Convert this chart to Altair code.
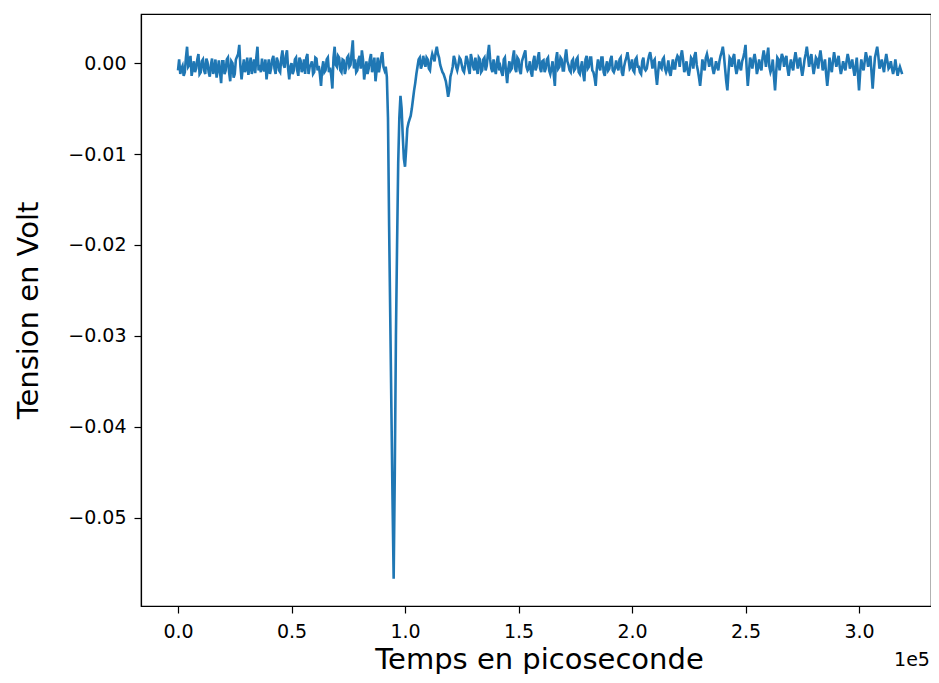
import altair as alt
import pandas as pd

# Sampling step of the recording (picoseconds)
STEP_PS = 1000

# Voltage, in units of 0.1 mV (1e-4 V), at t = i * 1000 ps
tension_01mV = [
    -8, -12, -3, -10, 18, -2, -14, 2, -6, 10, -10, 4, -12, 1, -15, 5, -7, -16, 3, -22,
    2, -8, 6, -20, 0, -12, 7, 20, -18, 4, -6, -13, 6, -4, -11, 18, -2, 5, -9, -18,
    4, -6, 8, -12, 2, -10, 14, -5, 14, -18, 0, -8, 6, -14, 3, -6, -12, 10, -4, 2,
    -10, 5, -3, -25, 2, -8, 6, -5, -28, 18, -4, 6, -10, 3, -6, 8, -2, 25, 4, -8,
    8, 14, -18, 2, -6, 10, -4, -20, 6, -2, 12, -8, -15, -180, -380, -567, -300, -110, -36, -80,
    -114, -72, -62, -50, -30, -12, 4, -6, 8, -4, 4, -8, 10, 2, 18, 6, -6, -12, -20, -37,
    -15, -4, 4, -8, 6, -2, -10, 8, -6, 10, -4, 6, -12, 4, -8, 6, -3, 20, -6, 4,
    -12, 8, -4, -14, 6, -22, 2, -6, 14, -10, 4, -12, 6, 14, -8, 2, -15, 8, -4, 12,
    -10, 3, -6, 6, -12, 2, -25, 12, -4, 4, -8, 15, -2, -10, 4, -6, 6, -12, 2, -20,
    8, -4, 6, -10, -25, 4, -8, 6, -14, 2, -6, 8, -10, 3, -8, 6, -14, 2, 12, -6,
    4, -10, 6, -4, -12, 6, -8, 2, 12, -6, 4, -24, 2, -6, 6, -10, 3, -14, 4, -6,
    8, -4, 14, -10, 2, -14, 6, -6, 12, -8, -25, 4, -8, 10, -4, 6, -12, 2, -8, 8,
    18, -6, -30, 6, -4, 10, -12, 4, -8, 6, 20, -25, 6, -6, 10, -12, 4, -8, 14, -4,
    17, -10, 4, -30, 6, -8, 10, -4, 8, -14, 4, -8, 12, -6, 6, -14, 4, 18, -4, 10,
    -12, 6, -6, 14, -8, 4, -25, 6, -10, 12, -4, 8, -12, 2, -8, 10, -6, 4, -14, 6,
    -30, 4, -8, 12, -4, 8, -28, 6, 18, -6, 4, -10, 10, -6, 2, -12, 4, -14, -4, -12,
]

# Samples read in between, at t = i * 1000 + 500 ps (0.1 mV units)
tension_mid_01mV = [
    4, -6, -14, 6, -4, 8, -6, -10, 4, -12, 2, -8, 5, -10, -2, -12, 4, -8, -10, 2,
    -12, 4, -10, 2, -16, 4, 10, -4, -6, -10, 6, -4, -12, 4, 6, -8, -10, -6, 4, -6,
    -12, 4, -6, 6, -8, 6, -2, 8, -6, -4, -12, 4, -8, 6, -10, 4, 6, -12, -2, -12,
    6, -8, -12, -6, -10, 4, -10, -14, 6, -2, 8, -8, 4, -12, 6, -4, 12, -6, -10, 4,
    -6, 4, -8, -12, 4, -10, 6, -8, -10, 6, -4,
    -4, -60, -280, -480, -450, -200, -60, -50, -105, -95, -66, -58, -40, -22, -4, 6,
    -2, 2, 6, -6, 4, 6, 12, 10, -2, -10, -16, -28, -30, -10, 8, -4, -2, 4, -8, -2, 4, -12, 4,
    -8, -4, 6, -10, 4, -8, 10, 4, -10, -6, 2, -8, -10, 4, -10, -6, -8, 6, -6, 6,
    -8, 2, 10, -4, -6, -10, 2, -8, 6, -6, 2, -10, 4, -8, -6, -12, 4, -6, 6, -8,
    6, 2, -8, 2, -8, 4, -10, -4, -12, 4, -6, 6, -8, -16, -6, -4, 6, -10, -4, -8,
    4, -8, -6, -4, 4, -10, -4, 6, 4, -4, -8, 4, -4, -10, 2, -6, -6, 8, 4, 2,
    -12, -10, -4, 4, -6, -6, -10, -4, -6, 4, 6, 8, 4, -6, -8, -6, 4, 8, -2, -16,
    -12, -4, 6, 4, 2, -6, -6, -4, 2, 12, 8, -20, -10, 4, 6, -4, -6, -4, 2, 12,
    -6, -10, 2, 4, 2, -6, -4, 6, 6, 8, -4, -6, -14, -10, 4, 2, 6, 4, -6, -4,
    -4, 4, 4, 2, -6, -6, 10, 8, 4, -2, -4, 4, 6, 4, -2, -12, -12, -4, 2, 4,
    2, -4, -6, -4, 2, 4, -2, -6, -4, -12, -10, -4, 2, 6, 2, -10, -10, 12, 8, -2,
    -4, 2, 2, -4, -6, -6, -6, -8, -8,
]

x_ticks = [0, 50000, 100000, 150000, 200000, 250000, 300000]
y_ticks = [0.0, -0.01, -0.02, -0.03, -0.04, -0.05]

rows = [(i * STEP_PS, v * 1e-4) for i, v in enumerate(tension_01mV)]
rows += [(i * STEP_PS + STEP_PS // 2, v * 1e-4) for i, v in enumerate(tension_mid_01mV)]
df = pd.DataFrame(rows, columns=["t", "v"]).sort_values("t").reset_index(drop=True)

FONT = "DejaVu Sans"
PLOT_W = 790
PLOT_H = 592

line = alt.Chart(df).mark_line(color="#1f77b4", strokeWidth=2.6).encode(
    x=alt.X(
        "t:Q",
        scale=alt.Scale(domain=[-16300, 331700], nice=False, zero=False),
        axis=alt.Axis(
            values=x_ticks,
            labelExpr="format(datum.value/100000, '.1f')",
            labelPadding=9,
            title="Temps en picoseconde",
            titleX=398,
            titleY=62,
            titleAlign="center",
            titleBaseline="alphabetic",
        ),
    ),
    y=alt.Y(
        "v:Q",
        scale=alt.Scale(domain=[-0.0597, 0.0054], nice=False, zero=False),
        axis=alt.Axis(
            values=y_ticks,
            format=".2f",
            labelPadding=8,
            title="Tension en Volt",
            titleX=-113,
            titleY=296,
            titleAlign="center",
            titleBaseline="middle",
            titleAngle=-90,
        ),
    ),
    order="t:Q",
)

offset = alt.Chart(pd.DataFrame({"s": ["1e5"]})).mark_text(
    font=FONT, fontSize=19, color="black", align="center", baseline="middle"
).encode(x=alt.value(771), y=alt.value(646), text="s:N")

chart = (
    alt.layer(line, offset)
    .properties(
        width=PLOT_W,
        height=PLOT_H,
        autosize=alt.AutoSizeParams(type="none"),
        padding={"left": 133, "top": 6, "right": 0, "bottom": 68},
    )
    .configure_view(stroke="black", strokeWidth=1.2)
    .configure_axis(
        grid=False,
        domainColor="black",
        domainWidth=1.2,
        tickColor="black",
        tickSize=7,
        tickWidth=1.2,
        labelFont=FONT,
        labelFontSize=19,
        labelColor="black",
        titleFont=FONT,
        titleFontSize=29,
        titleFontWeight="normal",
        titleColor="black",
    )
)

chart.save("out.html", embed_options={"renderer": "svg", "actions": False})
